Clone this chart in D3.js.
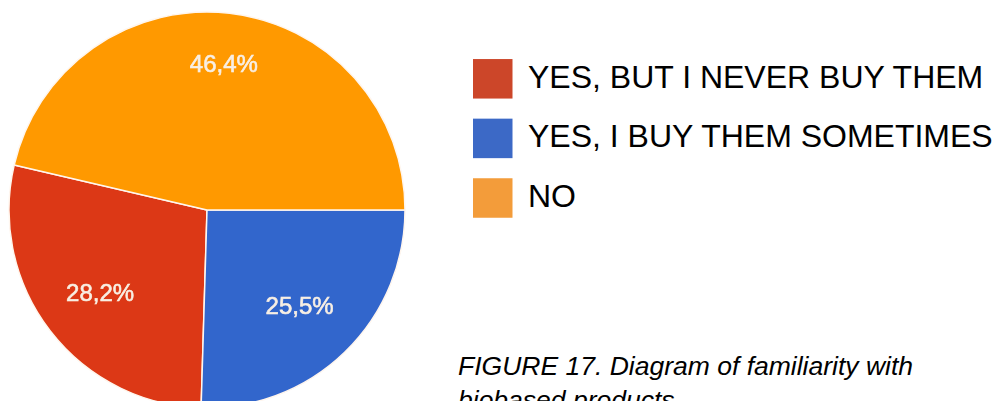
<!DOCTYPE html>
<html>
<head>
<meta charset="utf-8">
<script src="https://cdn.jsdelivr.net/npm/d3@7"></script>
<style>
  html, body { margin: 0; padding: 0; background: #ffffff; }
  svg { display: block; }
</style>
</head>
<body>
<svg id="chart" width="994" height="401"></svg>
<script>
// Survey answers: familiarity with biobased products
const categories = ["YES, BUT I NEVER BUY THEM", "YES, I BUY THEM SOMETIMES", "NO"];
const values = [28.2, 25.5, 46.4];
const valueLabels = ["28,2%", "25,5%", "46,4%"];
// Order in which the slices are laid out clockwise from 3 o'clock
const sliceOrder = [1, 0, 2];
const sliceColors = ["#dc3912", "#3366cc", "#ff9900"];
const legendColors = ["#cc4629", "#3c69c6", "#f39c3a"];
const caption = ["FIGURE 17. Diagram of familiarity with", "biobased products"];

const svg = d3.select("#chart");

const cx = 207, cy = 210, R = 198;

const data = categories.map((c, i) => ({ name: c, value: values[i], label: valueLabels[i], idx: i }));

const pie = d3.pie()
  .value(d => d.value)
  .sort((a, b) => sliceOrder.indexOf(a.idx) - sliceOrder.indexOf(b.idx))
  .startAngle(Math.PI / 2)
  .endAngle(Math.PI / 2 + 2 * Math.PI);

const arcs = pie(data);
const total = d3.sum(values);
const arc = d3.arc().innerRadius(0).outerRadius(R);

// soft edge for the pie
const defs = svg.append("defs");
defs.append("filter").attr("id", "soft")
  .attr("x", "-5%").attr("y", "-5%").attr("width", "110%").attr("height", "110%")
  .append("feGaussianBlur").attr("stdDeviation", 0.6);

const g = svg.append("g")
  .attr("transform", `translate(${cx},${cy})`)
  .attr("filter", "url(#soft)");

g.selectAll("path.slice")
  .data(arcs)
  .join("path")
  .attr("class", "slice")
  .attr("d", arc)
  .attr("fill", d => sliceColors[d.data.idx])
  .attr("stroke", "#fff6ee")
  .attr("stroke-width", 1.5)
  .attr("stroke-linejoin", "round");

// percentage labels; larger slices carry their label further out
g.selectAll("text.pct")
  .data(arcs)
  .join("text")
  .attr("class", "pct")
  .attr("transform", d => {
    const share = d.data.value / total;
    const r = R * (0.58 + 0.36 * share);
    const a = (d.startAngle + d.endAngle) / 2;
    return `translate(${r * Math.sin(a)},${-r * Math.cos(a)})`;
  })
  .attr("text-anchor", "middle")
  .attr("dominant-baseline", "central")
  .attr("font-family", "'Liberation Sans', Arial, sans-serif")
  .attr("font-size", 24)
  .attr("fill", "#f8efe4")
  .attr("stroke", "#f8efe4")
  .attr("stroke-width", 0.6)
  .text(d => d.data.label);

// legend
const legendY = d3.scalePoint()
  .domain(categories)
  .range([78.8, 198])
  .padding(0);

const lg = svg.append("g");
const rows = lg.selectAll("g.row")
  .data(data)
  .join("g")
  .attr("class", "row")
  .attr("transform", d => `translate(473,${legendY(d.name)})`);

rows.append("rect")
  .attr("x", 0)
  .attr("y", -19.75)
  .attr("width", 39.5)
  .attr("height", 39.5)
  .attr("fill", d => legendColors[d.idx]);

rows.append("text")
  .attr("x", 55)
  .attr("y", 9)
  .attr("font-family", "'Liberation Sans', Arial, sans-serif")
  .attr("font-size", 32)
  .attr("fill", "#000")
  .text(d => d.name);

// caption
svg.append("text")
  .attr("x", 458)
  .attr("y", 374.5)
  .attr("font-family", "'Liberation Sans', Arial, sans-serif")
  .attr("font-style", "italic")
  .attr("font-size", 26.5)
  .attr("fill", "#000")
  .selectAll("tspan")
  .data(caption)
  .join("tspan")
  .attr("x", 458)
  .attr("dy", (d, i) => i === 0 ? 0 : 34)
  .text(d => d);
</script>
</body>
</html>
